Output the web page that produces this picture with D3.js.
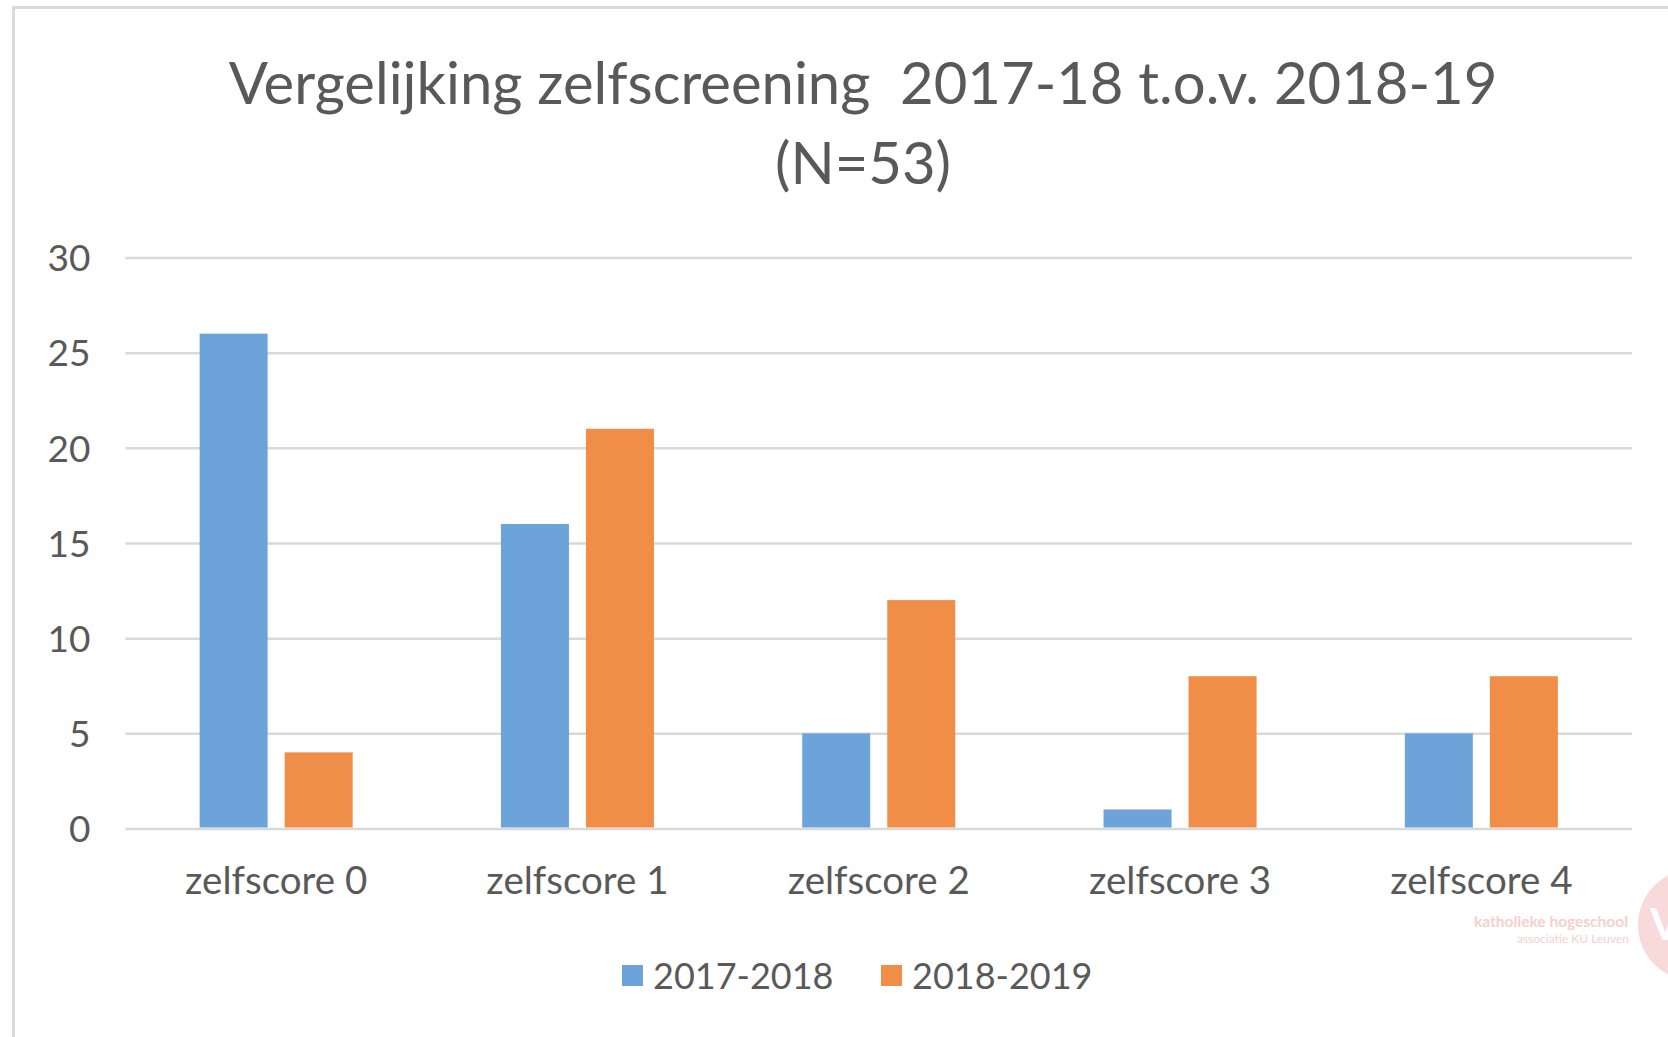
<!DOCTYPE html>
<html>
<head>
<meta charset="utf-8">
<script src="https://cdn.jsdelivr.net/npm/d3@7"></script>
<style>
  html, body { margin: 0; padding: 0; background: #fff; }
  svg { display: block; font-family: Lato, "Open Sans", sans-serif; }
</style>
</head>
<body>
<div class="visHolder"></div>
<script>
// chart values
var categories = ["zelfscore 0", "zelfscore 1", "zelfscore 2", "zelfscore 3", "zelfscore 4"];
var series = ["2017-2018", "2018-2019"];
var values2017 = [26, 16, 5, 1, 5];
var values2018 = [4, 21, 12, 8, 8];
var yTicks = [0, 5, 10, 15, 20, 25, 30];
var titleLines = ["Vergelijking zelfscreening  2017-18 t.o.v. 2018-19", "(N=53)"];

var colors = { "2017-2018": "#6ca4d9", "2018-2019": "#f08e48" };
var textColor = "#595959";

var W = 1668, H = 1037;
var margin = { top: 257.5, right: 36, bottom: 208.5, left: 125.5 };

var svg = d3.select(".visHolder")
    .append("svg")
    .attr("width", W)
    .attr("height", H);

// chart frame (only left and top edges visible, the rest is cropped)
svg.append("path")
    .attr("d", "M13.5," + H + "V7.5H" + W)
    .attr("fill", "none")
    .attr("stroke", "#d9d9d9")
    .attr("stroke-width", 3);

// title
svg.append("g")
    .selectAll("text")
    .data(titleLines)
    .enter()
    .append("text")
    .attr("x", 863)
    .attr("y", (d, i) => 104 + i * 80)
    .attr("text-anchor", "middle")
    .style("white-space", "pre")
    .style("font-size", "58px")
    .style("fill", textColor)
    .text(d => d);

var x = d3.scaleBand()
    .domain(categories)
    .range([margin.left, W - margin.right]);

var xSub = d3.scaleBand()
    .domain(series)
    .range([0, x.bandwidth()])
    .paddingInner(0.2)
    .paddingOuter(0.872);

var y = d3.scaleLinear()
    .domain([0, 30])
    .range([H - margin.bottom, margin.top]);

// gridlines + y labels
var yAxis = svg.append("g")
    .attr("transform", "translate(" + margin.left + ",0)")
    .call(d3.axisLeft(y)
        .tickValues(yTicks)
        .tickSize(-(W - margin.right - margin.left))
        .tickPadding(35)
    );
yAxis.select(".domain").remove();
yAxis.selectAll(".tick line")
    .attr("stroke", "#d9d9d9")
    .attr("stroke-width", 2.5);
yAxis.selectAll(".tick text")
    .style("font-family", "Lato, sans-serif")
    .style("font-size", "37px")
    .style("fill", textColor)
    .attr("dy", "0.36em");

// bars
var rows = categories.map((c, i) => ({
    category: c,
    values: [
        { key: series[0], value: values2017[i] },
        { key: series[1], value: values2018[i] }
    ]
}));

svg.append("g")
    .selectAll("g")
    .data(rows)
    .enter()
    .append("g")
    .attr("transform", d => "translate(" + x(d.category) + ",0)")
    .selectAll("rect")
    .data(d => d.values)
    .enter()
    .append("rect")
    .attr("x", d => xSub(d.key))
    .attr("y", d => y(d.value))
    .attr("width", xSub.bandwidth())
    .attr("height", d => y(0) - y(d.value) - 1)
    .style("fill", d => colors[d.key]);

// x labels
var xAxis = svg.append("g")
    .attr("transform", "translate(0," + (H - margin.bottom) + ")")
    .call(d3.axisBottom(x).tickSize(0).tickPadding(38));
xAxis.select(".domain").remove();
xAxis.selectAll(".tick text")
    .style("font-family", "Lato, sans-serif")
    .style("font-size", "38.5px")
    .style("fill", textColor);

// legend
var legend = svg.append("g").attr("id", "legend");
var legendX = [622, 881];
series.forEach((s, i) => {
    legend.append("rect")
        .attr("x", legendX[i])
        .attr("y", 965)
        .attr("width", 21)
        .attr("height", 21)
        .style("fill", colors[s]);
    legend.append("text")
        .attr("x", legendX[i] + 31)
        .attr("y", 976)
        .attr("dy", "0.36em")
        .style("font-size", "36px")
        .style("fill", textColor)
        .text(s);
});

// faint watermark bottom right
var wm = svg.append("g").attr("id", "watermark");
wm.append("circle")
    .attr("cx", 1694)
    .attr("cy", 925)
    .attr("r", 56)
    .style("fill", "#f9dada");
wm.append("text")
    .attr("x", 1650)
    .attr("y", 940)
    .style("font-size", "44px")
    .style("font-weight", "bold")
    .style("fill", "#ffffff")
    .text("V");
wm.append("text")
    .attr("x", 1628)
    .attr("y", 927)
    .attr("text-anchor", "end")
    .style("font-size", "15.5px")
    .style("font-weight", "bold")
    .style("fill", "#f6cfcf")
    .text("katholieke hogeschool");
wm.append("text")
    .attr("x", 1629)
    .attr("y", 943)
    .attr("text-anchor", "end")
    .style("font-size", "12px")
    .style("fill", "#f6cfcf")
    .text("associatie KU Leuven");
</script>
</body>
</html>
